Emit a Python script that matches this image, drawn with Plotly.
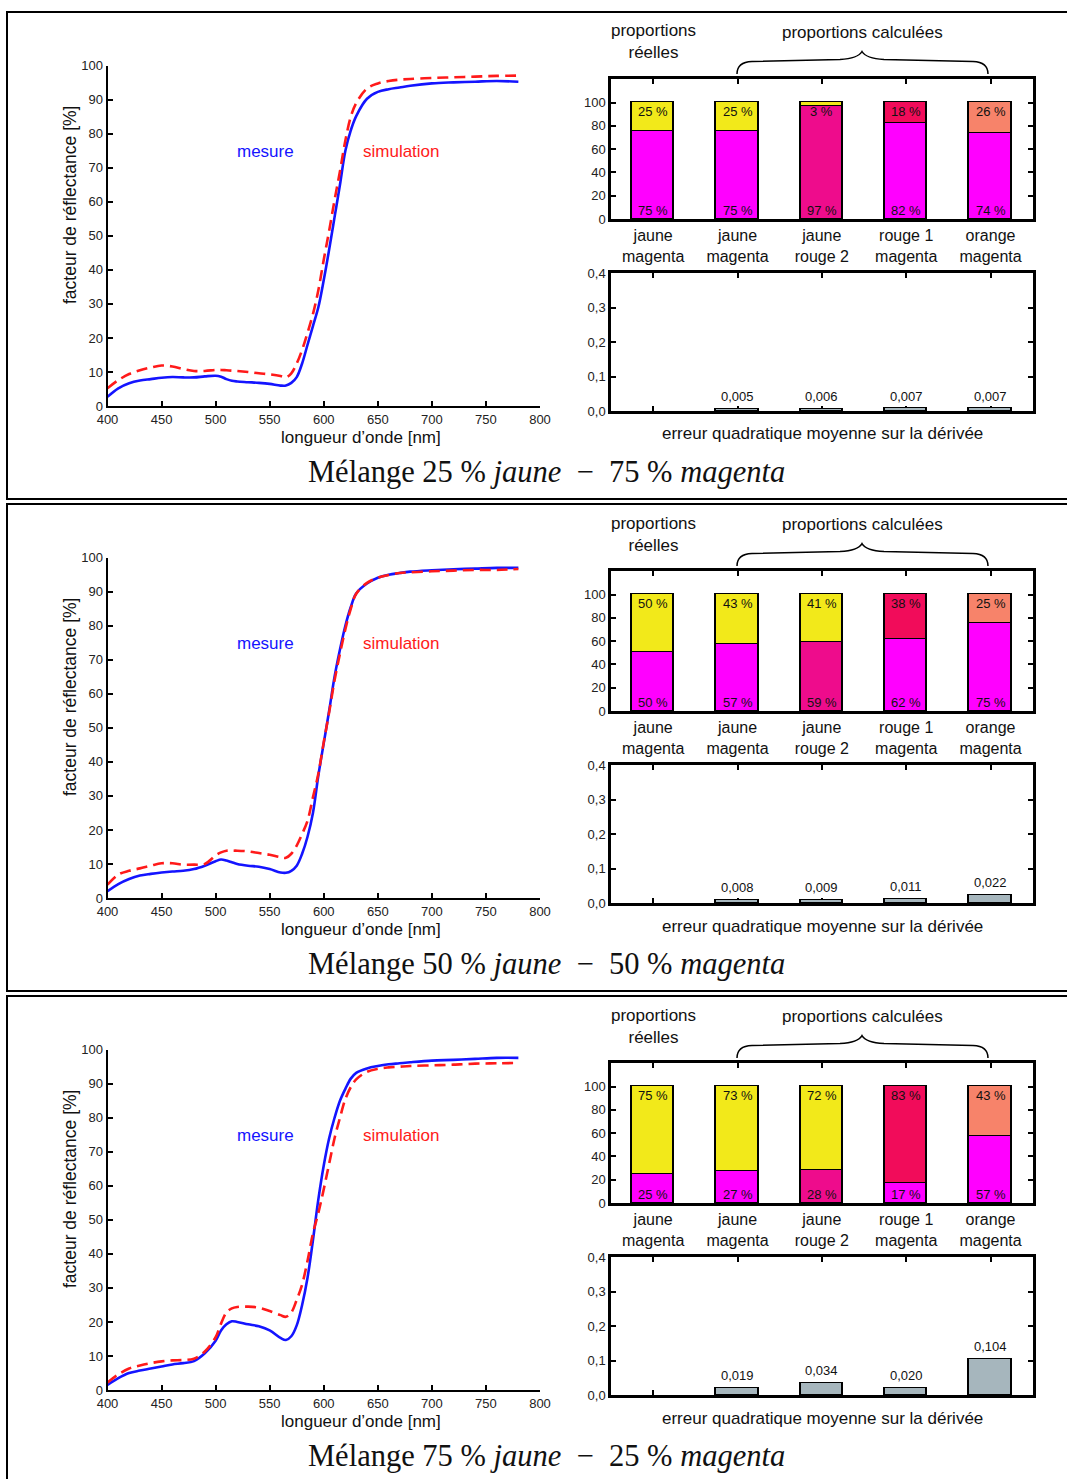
import plotly.graph_objects as go

W, H = 1067, 1479

# ---------------- data ----------------
WAVELENGTHS = [400, 410, 420, 430, 440, 450, 460, 470, 480, 490, 500, 505, 510, 515, 520, 530, 540, 550,
               560, 565, 570, 575, 580, 585, 590, 595, 600, 605, 610, 615, 620, 625, 630, 640, 650, 660,
               670, 680, 700, 720, 740, 760, 780]

MESURE_25J = [2.7, 5.2, 6.7, 7.5, 7.9, 8.3, 8.5, 8.4, 8.4, 8.7, 8.9, 8.6, 7.9, 7.4, 7.2, 7.0, 6.8, 6.5,
              6.0, 6.0, 6.8, 8.5, 12.5, 18, 23.5, 29, 37, 46, 55.5, 65, 75, 81, 85.2, 90.3, 92.3, 93.1,
              93.6, 94.1, 94.8, 95.1, 95.3, 95.5, 95.3]
SIMULATION_25J = [5.2, 7.6, 9.4, 10.5, 11.3, 11.9, 11.6, 10.9, 10.3, 10.3, 10.6, 10.6, 10.5, 10.4, 10.3,
                  10.0, 9.6, 9.3, 8.8, 8.4, 9.6, 12.5, 16.5, 21.5, 27, 34, 43, 51.5, 60.5, 69, 78, 85, 89,
                  93.3, 94.8, 95.5, 95.9, 96.1, 96.4, 96.6, 96.8, 97.0, 97.1]

MESURE_50J = [2.0, 4.1, 5.6, 6.6, 7.1, 7.5, 7.8, 8.0, 8.5, 9.5, 10.8, 11.3, 11.0, 10.5, 10.0, 9.5, 9.2,
              8.5, 7.5, 7.4, 8.0, 9.5, 13, 18, 25, 36, 45.5, 55, 65, 73, 80, 85.5, 89.5, 92.4, 94.1, 95.0,
              95.5, 95.9, 96.3, 96.6, 96.8, 97.0, 97.0]
SIMULATION_50J = [3.9, 6.9, 8.0, 8.7, 9.5, 10.2, 10.2, 9.8, 9.8, 10.0, 12.5, 13.4, 13.9, 13.9, 13.9, 13.7,
                  13.2, 12.7, 12.0, 11.8, 13.0, 15.4, 18.8, 22.7, 29.6, 36.5, 45.8, 54.6, 64, 71.8, 79, 85,
                  89.4, 92.6, 94.1, 94.9, 95.5, 95.7, 96.0, 96.2, 96.4, 96.4, 96.7]

MESURE_75J = [1.5, 3.5, 5.0, 5.7, 6.3, 6.9, 7.5, 7.9, 8.5, 10.8, 14.5, 17.5, 19.3, 20.2, 20.0, 19.3, 18.7,
              17.5, 15.3, 14.7, 15.8, 19, 25, 33, 44, 56, 66, 74, 80, 85, 88.5, 91.5, 93.2, 94.5, 95.2,
              95.7, 96.0, 96.3, 96.8, 97.0, 97.3, 97.6, 97.6]
SIMULATION_75J = [2.2, 4.6, 6.3, 7.2, 7.9, 8.4, 8.7, 8.8, 9.2, 11.3, 15.5, 19.5, 22.8, 24.0, 24.4, 24.5,
                  24.2, 23.2, 22.0, 21.5, 22.8, 26.5, 31, 38, 46, 52, 59, 66.5, 74, 80, 85.5, 89, 91.3,
                  93.5, 94.4, 94.8, 95.0, 95.2, 95.4, 95.6, 95.9, 96.0, 96.1]

CATEGORIES = ["jaune<br>magenta", "jaune<br>magenta", "jaune<br>rouge 2", "rouge 1<br>magenta",
              "orange<br>magenta"]

TOP_PCT_25J = [25, 25, 3, 18, 26]
BOTTOM_PCT_25J = [75, 75, 97, 82, 74]
TOP_PCT_50J = [50, 43, 41, 38, 25]
BOTTOM_PCT_50J = [50, 57, 59, 62, 75]
TOP_PCT_75J = [75, 73, 72, 83, 43]
BOTTOM_PCT_75J = [25, 27, 28, 17, 57]

ERROR_25J = [None, 0.005, 0.006, 0.007, 0.007]
ERROR_50J = [None, 0.008, 0.009, 0.011, 0.022]
ERROR_75J = [None, 0.019, 0.034, 0.020, 0.104]

TITLES = [("25", "75"), ("50", "50"), ("75", "25")]

LINE_TICKS_X = [400, 450, 500, 550, 600, 650, 700, 750, 800]
LINE_TICKS_Y = [0, 10, 20, 30, 40, 50, 60, 70, 80, 90, 100]
PCT_TICKS = [0, 20, 40, 60, 80, 100]
ERR_TICKS = [0.0, 0.1, 0.2, 0.3, 0.4]
ERR_TICK_TEXT = ["0,0", "0,1", "0,2", "0,3", "0,4"]

# ---------------- styles ----------------
YELLOW = "#F2E91A"
MAGENTA = "#FF00FF"
ROUGE2 = "#EE0C8C"
ROUGE1 = "#F10C5A"
ORANGE = "#F7836A"
GREY = "#A6B6BD"
TOP_COLORS = [YELLOW, YELLOW, YELLOW, ROUGE1, ORANGE]
BOTTOM_COLORS = [MAGENTA, MAGENTA, ROUGE2, MAGENTA, MAGENTA]

SANS = "Liberation Sans, Arial, sans-serif"
SERIF = "Liberation Serif, DejaVu Serif, serif"
TXT = 17


def X(px):
    return px / W


def Y(py):
    return 1 - py / H


def note(px, py, text, size=TXT, color="#111", **kw):
    d = dict(x=X(px), y=Y(py), xref="paper", yref="paper", text=text, showarrow=False,
             xanchor="center", yanchor="middle", font=dict(family=kw.pop("family", SANS), size=size,
                                                           color=color))
    d.update(kw)
    return d


panels = [
    (MESURE_25J, SIMULATION_25J, TOP_PCT_25J, BOTTOM_PCT_25J, ERROR_25J),
    (MESURE_50J, SIMULATION_50J, TOP_PCT_50J, BOTTOM_PCT_50J, ERROR_50J),
    (MESURE_75J, SIMULATION_75J, TOP_PCT_75J, BOTTOM_PCT_75J, ERROR_75J),
]

fig = go.Figure()
layout = {}
annotations = []
shapes = []
TICKFONT = dict(family=SANS, size=13, color="#222")

for i, (mes, sim, top, bot, err) in enumerate(panels):
    off = 492 * i
    n1, n2, n3 = 3 * i + 1, 3 * i + 2, 3 * i + 3
    s1 = "" if n1 == 1 else str(n1)

    # ---- line chart ----
    fig.add_trace(go.Scatter(x=WAVELENGTHS, y=mes, mode="lines",
                             line=dict(color="#1414FF", width=2.6, shape="spline"),
                             xaxis="x" + s1, yaxis="y" + s1, showlegend=False, hoverinfo="skip"))
    fig.add_trace(go.Scatter(x=WAVELENGTHS, y=sim, mode="lines",
                             line=dict(color="#FF1A1A", width=2.6, dash="11px,6px", shape="spline"),
                             xaxis="x" + s1, yaxis="y" + s1, showlegend=False, hoverinfo="skip"))
    layout["xaxis" + s1] = dict(domain=[X(107.5), X(540)], range=[400, 800], tickvals=LINE_TICKS_X,
                                ticks="inside", ticklen=5, tickwidth=1.5, tickcolor="black",
                                showline=True, linewidth=2, linecolor="black", showgrid=False,
                                zeroline=False, anchor="y" + s1, automargin=False, tickfont=TICKFONT)
    layout["yaxis" + s1] = dict(domain=[Y(406 + off), Y(65.7 + off)], range=[0, 100],
                                tickvals=LINE_TICKS_Y, ticks="inside", ticklen=5, tickwidth=1.5,
                                tickcolor="black", showline=True, linewidth=2, linecolor="black",
                                showgrid=False, zeroline=False, anchor="x" + s1, automargin=False,
                                tickfont=TICKFONT)
    annotations += [
        note(265, 151 + off, "mesure", color="#1414FF"),
        note(401, 151 + off, "simulation", color="#FF1A1A"),
        note(70, 205 + off, "facteur de réflectance [%]", size=17.5, textangle=-90),
        note(361, 437 + off, "longueur d’onde [nm]", size=17),
        note(546, 472 + off,
             f"Mélange {TITLES[i][0]} % <i>jaune</i>\u00a0\u00a0−\u00a0\u00a0{TITLES[i][1]} % <i>magenta</i>",
             size=30.5, family=SERIF),
    ]

    # ---- proportion bars ----
    cats = list(range(len(CATEGORIES)))
    fig.add_trace(go.Bar(x=cats, y=bot, width=0.5, marker=dict(color=BOTTOM_COLORS,
                         line=dict(color="black", width=1.6)),
                         xaxis=f"x{n2}", yaxis=f"y{n2}", showlegend=False, hoverinfo="skip"))
    fig.add_trace(go.Bar(x=cats, y=top, width=0.5, marker=dict(color=TOP_COLORS,
                         line=dict(color="black", width=1.6)),
                         xaxis=f"x{n2}", yaxis=f"y{n2}", showlegend=False, hoverinfo="skip"))
    layout[f"xaxis{n2}"] = dict(domain=[X(611), X(1032.7)], range=[-0.5, 4.5], tickvals=cats,
                                ticktext=CATEGORIES, ticks="inside", ticklen=5, tickwidth=1.5,
                                tickcolor="black", showline=True, linewidth=2.5, linecolor="black",
                                mirror="ticks", showgrid=False, zeroline=False, anchor=f"y{n2}",
                                layer="below traces", automargin=False,
                                tickfont=dict(family=SANS, size=16, color="#111"))
    layout[f"yaxis{n2}"] = dict(domain=[Y(219 + off), Y(79.3 + off)], range=[0, 120], tickvals=PCT_TICKS,
                                ticks="inside", ticklen=5, tickwidth=1.5, tickcolor="black",
                                showline=True, linewidth=2.5, linecolor="black", mirror="ticks",
                                showgrid=False, zeroline=False, anchor=f"x{n2}", automargin=False,
                                tickfont=TICKFONT)
    for c in cats:
        annotations.append(dict(x=c, y=92, xref=f"x{n2}", yref=f"y{n2}", text=f"{top[c]} %",
                                xanchor="center", yanchor="middle",
                                showarrow=False, font=dict(family=SANS, size=13, color="#111")))
        annotations.append(dict(x=c, y=7.5, xref=f"x{n2}", yref=f"y{n2}", text=f"{bot[c]} %",
                                xanchor="center", yanchor="middle",
                                showarrow=False, font=dict(family=SANS, size=13, color="#111")))
    annotations += [
        note(653.5, 42 + off, "proportions<br>réelles"),
        note(862, 32 + off, "proportions calculées"),
        note(822, 434 + off, "erreur quadratique moyenne sur la dérivée"),
    ]
    pts = [(737, 74), (737, 62), (752, 61.5), (840, 59.5), (858, 58.5), (862, 51.5), (866, 58.5),
           (884, 59.5), (973, 61.5), (988, 62), (988, 74)]
    P = [f"{X(a):.5f},{Y(b + off):.5f}" for a, b in pts]
    path = (f"M {P[0]} Q {P[1]} {P[2]} L {P[3]} Q {P[4]} {P[5]} Q {P[6]} {P[7]} "
            f"L {P[8]} Q {P[9]} {P[10]}")
    shapes.append(dict(type="path", path=path, xref="paper", yref="paper",
                       line=dict(color="black", width=1.5)))

    # ---- error bars ----
    fig.add_trace(go.Bar(x=cats, y=err, width=0.5, marker=dict(color=GREY,
                         line=dict(color="black", width=1.6)),
                         xaxis=f"x{n3}", yaxis=f"y{n3}", showlegend=False, hoverinfo="skip"))
    layout[f"xaxis{n3}"] = dict(domain=[X(611), X(1032.7)], range=[-0.5, 4.5], tickvals=cats,
                                showticklabels=False, ticks="inside", ticklen=5, tickwidth=1.5,
                                tickcolor="black", showline=True, linewidth=2.5, linecolor="black",
                                mirror="ticks", showgrid=False, zeroline=False, anchor=f"y{n3}",
                                layer="below traces", automargin=False)
    layout[f"yaxis{n3}"] = dict(domain=[Y(411 + off), Y(273.3 + off)], range=[0, 0.4],
                                tickvals=ERR_TICKS, ticktext=ERR_TICK_TEXT, ticks="inside", ticklen=5,
                                tickwidth=1.5, tickcolor="black", showline=True, linewidth=2.5,
                                linecolor="black", mirror="ticks", showgrid=False, zeroline=False,
                                anchor=f"x{n3}", automargin=False, tickfont=TICKFONT)
    for c in cats:
        if err[c] is not None:
            annotations.append(dict(x=c, y=err[c], xref=f"x{n3}", yref=f"y{n3}",
                                    text=f"{err[c]:.3f}".replace(".", ","), xanchor="center",
                                    yanchor="bottom", yshift=3,
                                    showarrow=False, font=dict(family=SANS, size=13, color="#111")))

    # ---- panel frame ----
    shapes.append(dict(type="rect", xref="paper", yref="paper", x0=X(7), x1=X(1080),
                       y0=Y(12 + off), y1=Y(499 + off), line=dict(color="black", width=2)))

fig.update_layout(**layout)
fig.update_layout(width=W, height=H, margin=dict(l=0, r=0, t=0, b=0, pad=0, autoexpand=False),
                  barmode="stack", bargap=0, plot_bgcolor="white", paper_bgcolor="white",
                  annotations=annotations, shapes=shapes, showlegend=False)

fig.write_html("out.html", config={"displayModeBar": False},
               post_script="document.body.style.margin='0';")
